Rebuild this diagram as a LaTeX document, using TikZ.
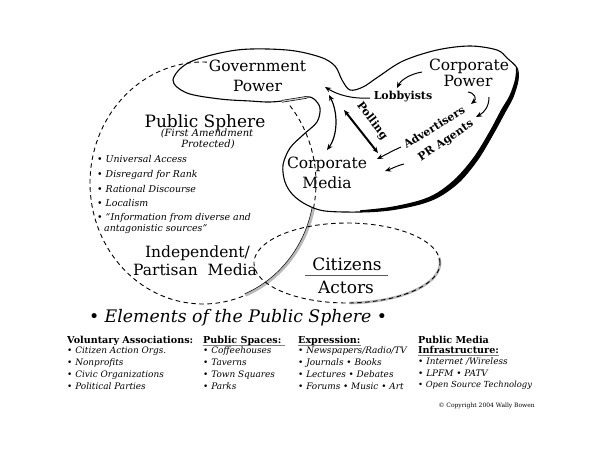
\documentclass[tikz,border=0pt]{standalone}
\usepackage{fontspec}
\setmainfont{DejaVu Serif}
\usetikzlibrary{arrows.meta}
\begin{document}
\begin{tikzpicture}[x=1pt,y=-1pt,
  big/.style={font=\fontsize{15.5}{17}\selectfont, anchor=base, inner sep=0pt},
  bigger/.style={font=\fontsize{17}{19}\selectfont, anchor=base, inner sep=0pt},
  subt/.style={font=\fontsize{10}{12}\selectfont\itshape, anchor=base, inner sep=0pt},
  blist/.style={font=\fontsize{9.4}{11}\selectfont\itshape, anchor=base west, inner sep=0pt},
  lab/.style={font=\fontsize{11}{13}\selectfont\bfseries, inner sep=0pt},
  head/.style={font=\fontsize{9.6}{11}\selectfont\bfseries, anchor=base west, inner sep=0pt},
  item/.style={font=\fontsize{8.9}{10}\selectfont\itshape, anchor=base west, inner sep=0pt},
  dsh/.style={line width=0.9pt, dash pattern=on 4.5pt off 3.5pt},
  shade/.style={line width=3pt, gray!55},
  tip/.style={-{Stealth[length=6pt,width=5pt]}, line width=1pt},
  dtip/.style={{Stealth[length=6pt,width=5pt]}-{Stealth[length=6pt,width=5pt]}, line width=1.2pt},
]
\useasboundingbox (0,0) rectangle (600,450);
\fill[white] (0,0) rectangle (600,450);

% Public sphere (dashed circle with shaded lower right)
\draw[dsh] plot[domain=88:292, samples=80] ({203+113*cos(\x)},{183-121*sin(\x)});
\draw[shade] plot[domain=292:348, samples=30] ({203+113*cos(\x)},{183-121*sin(\x)});
\draw[line width=0.5pt] plot[domain=292:348, samples=30] ({203+111.5*cos(\x)},{183-119.5*sin(\x)});
\draw[dsh] plot[domain=348:400, samples=30] ({203+113*cos(\x)},{183-121*sin(\x)});

% Citizens ellipse
\draw[shade, line width=2.6pt] plot[domain=-88:8, samples=40] ({347+93*cos(\x)},{263-40*sin(\x)});
\draw[dsh] plot[domain=0:360, samples=120] ({347+93*cos(\x)},{263-40*sin(\x)});

% Government / Corporate outline
\draw[line width=1.1pt] plot[smooth cycle, tension=0.55] coordinates {
(173,80) (187,93) (220,99) (250,101) (270,102) (290,100) (307,97) (314,99)
(320,108) (317,122) (303,135) (290,148) (283,165) (285,182) (293,195) (307,205)
(325,211) (360,212) (390,210) (420,204) (440,196) (460,181) (478,159) (493,134)
(505,112) (513,97) (518,80) (517,68) (507,58) (497,50) (470,46) (437,50)
(403,61) (378,77) (363,87) (350,90) (342,80) (335,66) (320,57) (287,50)
(237,50) (190,62)};
% heavy right edge
\fill plot[smooth, tension=0.55] coordinates {
(517,68) (518,80) (513,97) (505,112) (493,134) (478,159) (460,181) (440,196)
(420,204) (390,210) (360,212)}
-- plot[smooth, tension=0.55] coordinates {
(360,210.3) (390,207) (419,200.5) (437.5,192.5) (456.5,177.5) (474.5,156)
(489.5,131.5) (501,110) (509.5,95.5) (515,79.5) (516,68)} -- cycle;
% double segment
\draw[line width=0.6pt, double=gray!45, double distance=1.3pt] (282,101.3) -- (307,97.3);

% Labels
\node[big] (gov) at (257.5,71) {Government};
\node[big] (govp) at (257.5,91) {Power};
\node[bigger] (ps) at (205,127) {Public Sphere};
\node[subt] (fa) at (207,136.5) {(First Amendment};
\node[subt] (pr) at (208,147.5) {Protected)};
\node[blist] (b1) at (97,162) {• Universal Access};
\node[blist] (b2) at (97,177) {• Disregard for Rank};
\node[blist] (b3) at (97,192) {• Rational Discourse};
\node[blist] (b4) at (97,206) {• Localism};
\node[blist] (b5) at (97,220) {• “Information from diverse and};
\node[blist] (b6) at (104,231) {antagonistic sources”};
\node[big] (ind) at (197.5,257) {Independent/};
\node[big] (pm) at (195,275) {Partisan~ Media};
\node[big] (cm1) at (327,168) {Corporate};
\node[big] (cm2) at (327,188) {Media};
\node[big] (cp1) at (469,70) {Corporate};
\node[big] (cp2) at (468,86) {Power};
\node[bigger] (cit) at (347,270) {Citizens};
\node[bigger] (act) at (346,293) {Actors};
\draw[line width=0.5pt, gray!70!black] (305,275.5) -- (388,275.5);

\node[lab] (lob) at (403,96.5) {Lobbyists};
\node[lab, rotate=-53] (pol) at (372,121) {Polling};
\node[lab, rotate=32] (adv) at (434,127) {Advertisers};
\node[lab, rotate=34] (pra) at (446,141) {PR Agents};

% Arrow end points
\coordinate (lobS) at (370,98);
\coordinate (govT) at (325,87);
\coordinate (cpS) at (422,72);
\coordinate (lobT) at (397,88);
\coordinate (a3s) at (468,92);
\coordinate (a3t) at (471,104);
\coordinate (a4s) at (489,97);
\coordinate (a4t) at (476,117);
\coordinate (advS) at (401,147);
\coordinate (advT) at (377,159);
\coordinate (prS) at (404,164);
\coordinate (prT) at (385,171);
\coordinate (dA) at (329,95);
\coordinate (dB) at (327,150);
\coordinate (pA) at (344,110);
\coordinate (pB) at (378,153);

\draw[tip] (lobS) .. controls (352,99) and (338,95) .. (govT);
\draw[tip] (cpS) .. controls (410,74) and (401,80) .. (lobT);
\draw[tip] (a3s) .. controls (475,93) and (477,99) .. (a3t);
\draw[tip] (a4s) .. controls (489,106) and (485,112) .. (a4t);
\draw[tip] (advS) .. controls (392,151) and (385,155) .. (advT);
\draw[tip] (prS) .. controls (396,166) and (391,169) .. (prT);
\draw[dtip] (dA) .. controls (338,112) and (338,135) .. (dB);
\draw[dtip, line width=2pt] (pA) -- (pB);

% Title
\node[font=\fontsize{17.3}{19}\selectfont\itshape, anchor=base, inner sep=0pt] (el) at (238,322) {• Elements of the Public Sphere •};

% Columns
\node[head] (h1) at (67,343) {Voluntary Associations:};
\node[item] (c11) at (67,353) {• Citizen Action Orgs.};
\node[item] (c12) at (67,365) {• Nonprofits};
\node[item] (c13) at (67,377) {• Civic Organizations};
\node[item] (c14) at (67,389) {• Political Parties};

\node[head] (h2) at (203,343) {Public Spaces:};
\draw[gray, line width=0.5pt] ([yshift=-2pt]h2.base west) -- ([yshift=-2pt,xshift=3pt]h2.base east);
\node[item] (c21) at (203,353) {• Coffeehouses};
\node[item] (c22) at (203,365) {• Taverns};
\node[item] (c23) at (203,377) {• Town Squares};
\node[item] (c24) at (203,389) {• Parks};

\node[head] (h3) at (298,343) {Expression:};
\draw[gray, line width=0.5pt] ([yshift=-2pt]h3.base west) -- ([yshift=-2pt]h3.base east);
\node[item] (c31) at (298,353) {• Newspapers/Radio/TV};
\node[item] (c32) at (298,365) {• Journals • Books};
\node[item] (c33) at (298,377) {• Lectures • Debates};
\node[item] (c34) at (298,389) {• Forums • Music • Art};

\node[head] (h4) at (418,343) {Public Media};
\node[head] (h4b) at (418,353) {Infrastructure:};
\draw[gray, line width=0.5pt] ([yshift=-2pt]h4b.base west) -- ([yshift=-2pt]h4b.base east);
\node[item] (c41) at (418,364) {• Internet /Wireless};
\node[item] (c42) at (418,376) {• LPFM • PATV};
\node[item, font=\fontsize{8.4}{10}\selectfont\itshape] (c43) at (418,387) {• Open Source Technology};

\node[font=\fontsize{6}{7}\selectfont, anchor=base east, inner sep=0pt] (copy) at (535,407) {© Copyright 2004 Wally Bowen};
\end{tikzpicture}
\end{document}
